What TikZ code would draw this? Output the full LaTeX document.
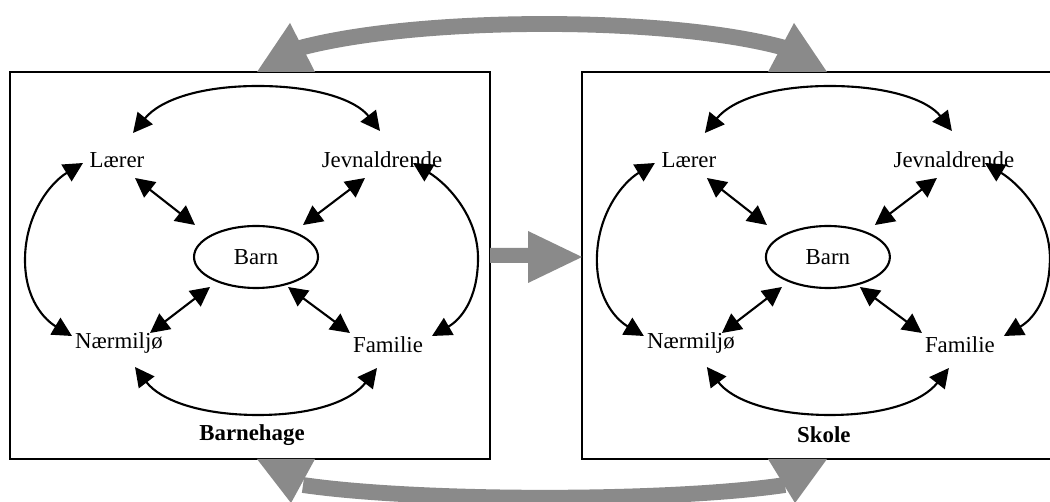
\documentclass[tikz,border=0pt]{standalone}
\usepackage{fontspec}
\setmainfont{Liberation Serif}
\usetikzlibrary{arrows.meta,shapes.geometric}
\definecolor{bandgray}{HTML}{8A8A8A}
\tikzset{
 lbl/.style={font=\fontsize{13}{15}\selectfont, inner sep=1pt},
 ttl/.style={font=\fontsize{13}{15}\selectfont\bfseries, inner sep=1pt},
 panelbox/.style={draw=black, line width=1.3pt, fill=white},
 barn/.style={draw, ellipse, line width=1.2pt, minimum width=2.48cm, minimum height=1.24cm, inner sep=0pt, font=\fontsize{13}{15}\selectfont},
 dbl/.style={{Triangle[length=11pt,width=11pt]}-{Triangle[length=11pt,width=11pt]}, line width=1.2pt},
 band/.style={draw=bandgray, line width=9pt},
 headfill/.style={fill=bandgray, draw=none},
}
\newcommand\drawpanel[3]{%
\begin{scope}[xshift=#2]
\draw[panelbox] (10,72) rectangle (490,459);
\node[lbl] (#1L) at (117,160) {Lærer};
\node[lbl] (#1J) at (382,160) {Jevnaldrende};
\node[lbl] (#1N) at (119,343) {Nærmiljø};
\node[lbl] (#1F) at (388,345) {Familie};
\node[barn] (#1B) at (256,257) {Barn};
\node[ttl] (#1T) at (252,435) {#3};
\coordinate (#1la) at (135,178);
\coordinate (#1lb) at (195,225);
\coordinate (#1ja) at (365,178);
\coordinate (#1jb) at (303,225);
\coordinate (#1nb) at (210,287);
\coordinate (#1na) at (150,333);
\coordinate (#1fb) at (288,287);
\coordinate (#1fa) at (350,333);
\coordinate (#1tl) at (133,133);
\coordinate (#1tr) at (380,131);
\coordinate (#1bl) at (135,367);
\coordinate (#1br) at (377,368);
\coordinate (#1ll) at (83,163);
\coordinate (#1lr) at (72,336);
\coordinate (#1rl) at (413,163);
\coordinate (#1rr) at (432,336);
\draw[dbl] (#1la) -- (#1lb);
\draw[dbl] (#1ja) -- (#1jb);
\draw[dbl] (#1nb) -- (#1na);
\draw[dbl] (#1fb) -- (#1fa);
\draw[dbl] (#1tl) .. controls (160,100) and (200,86) .. (258,86) .. controls (316,86) and (356,100) .. (#1tr);
\draw[dbl] (#1bl) .. controls (160,400) and (200,415) .. (258,415) .. controls (316,415) and (352,400) .. (#1br);
\draw[dbl] (#1ll) .. controls (50,183) and (25,215) .. (25,260) .. controls (25,300) and (45,320) .. (#1lr);
\draw[dbl] (#1rl) .. controls (446,183) and (478,215) .. (478,258) .. controls (478,300) and (460,320) .. (#1rr);
\end{scope}}
\begin{document}
\begin{tikzpicture}[x=0.02cm,y=-0.02cm]
\useasboundingbox (0,0) rectangle (1050,502);
\clip (0,0) rectangle (1050,502);
\fill[white] (0,0) rectangle (1050,502);
\drawpanel{A}{0cm}{Barnehage}
\drawpanel{S}{11.44cm}{Skole}
% gray connectors
\coordinate (tl) at (300,48);
\coordinate (tr) at (785,48);
\coordinate (bl) at (303,485);
\coordinate (br) at (785,485);
\draw[band] (tl) .. controls (420,16) and (670,16) .. (tr);
\draw[band] (bl) .. controls (420,502) and (670,502) .. (br);
\fill[headfill] (257,72) -- (290,23) -- (315,72) -- cycle;
\fill[headfill] (768,72) -- (794,23) -- (827,72) -- cycle;
\fill[headfill] (257,459) -- (291,503) -- (315,459) -- cycle;
\fill[headfill] (768,459) -- (795,503) -- (827,459) -- cycle;
\fill[headfill] (490,248) -- (528,248) -- (528,231) -- (582,257) -- (528,283) -- (528,263) -- (490,263) -- cycle;
\end{tikzpicture}
\end{document}
